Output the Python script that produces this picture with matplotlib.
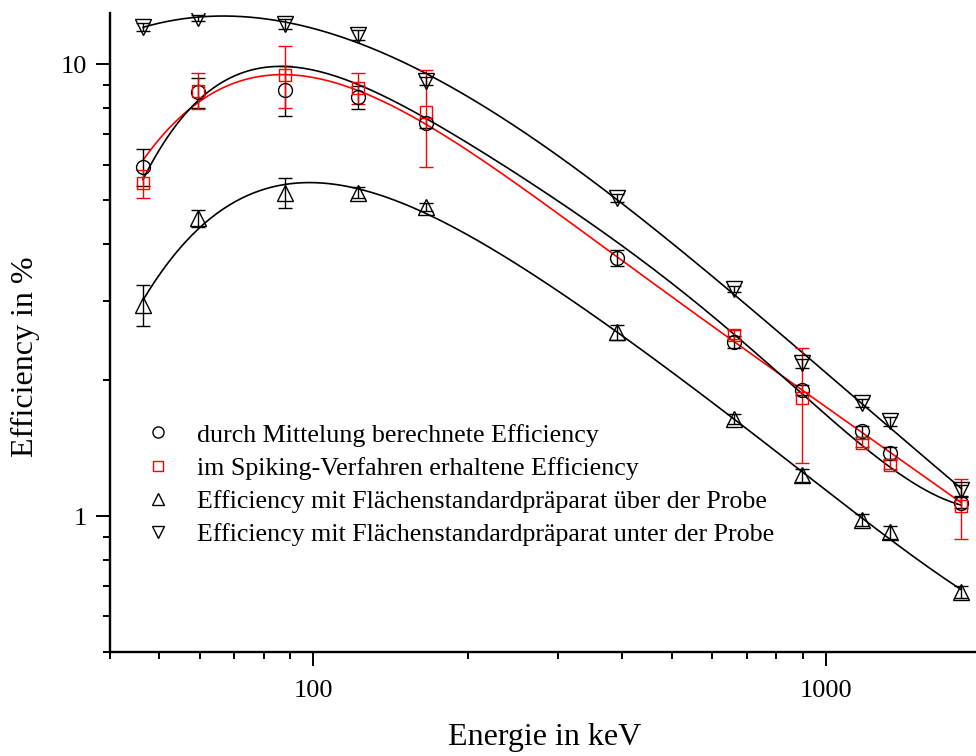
import numpy as np
import matplotlib
matplotlib.use("Agg")
import matplotlib.pyplot as plt
from matplotlib.ticker import FixedLocator, NullFormatter, FixedFormatter
from matplotlib.lines import Line2D

# ---------------- data ----------------
energy = [46.5, 59.5, 88.0, 122.1, 165.9, 391.7, 661.7, 898.0, 1173.2, 1332.5, 1836.1]

eff_mean = [5.94, 8.67, 8.80, 8.45, 7.43, 3.73, 2.43, 1.90, 1.54, 1.38, 1.07]
err_mean = [0.55, 0.65, 1.10, 0.50, 0.20, 0.15, 0.07, 0.05, 0.04, 0.04, 0.03]

energy_spike = [46.5, 59.5, 88.0, 122.1, 165.9, 661.7, 898.0, 1173.2, 1332.5, 1836.1]
eff_spike = [5.45, 8.75, 9.50, 8.89, 7.83, 2.52, 1.83, 1.45, 1.30, 1.05]
err_spike = [0.38, 0.80, 1.50, 0.70, 1.90, 0.06, 0.52, 0.03, 0.03, 0.16]

eff_above = [2.94, 4.56, 5.20, 5.20, 4.84, 2.55, 1.64, 1.23, 0.98, 0.92, 0.68]
err_above = [0.30, 0.20, 0.40, 0.15, 0.10, 0.10, 0.04, 0.04, 0.03, 0.03, 0.02]

eff_below = [12.1, 12.7, 12.3, 11.6, 9.2, 5.07, 3.18, 2.18, 1.78, 1.62, 1.14]
err_below = [0.25, 0.20, 0.30, 0.30, 0.20, 0.10, 0.05, 0.05, 0.04, 0.04, 0.03]

labels = [
    "durch Mittelung berechnete Efficiency",
    "im Spiking-Verfahren erhaltene Efficiency",
    "Efficiency mit Flächenstandardpräparat über der Probe",
    "Efficiency mit Flächenstandardpräparat unter der Probe",
]

x_major = [100, 1000]
x_major_labels = ["100", "1000"]
y_major = [1, 10]
y_major_labels = ["1", "10"]

plt.rcParams['font.family'] = ['Liberation Serif', 'DejaVu Serif']

fig = plt.figure(figsize=(9.76, 7.56), dpi=100)
ax = fig.add_axes([0.1122, 0.1376, 0.8878, 0.8452])
ax.set_xscale('log')
ax.set_yscale('log')


def fit_curve(x, y, err=None, deg=5):
    """Polynomial fit of ln(eff) versus ln(E)."""
    lx = np.log(np.asarray(x))
    ly = np.log(np.asarray(y))
    w = None
    if err is not None:
        w = np.asarray(y) / np.asarray(err)
    c = np.polyfit(lx, ly, deg, w=w)
    xs = np.logspace(np.log10(min(x)), np.log10(max(x)), 400)
    return xs, np.exp(np.polyval(c, np.log(xs)))


# fitted curves
xs, ys = fit_curve(energy, eff_mean, err_mean)
ax.plot(xs, ys, color='red', lw=1.2, zorder=2)
xs, ys = fit_curve(energy_spike, eff_spike)
ax.plot(xs, ys, color='black', lw=1.2, zorder=2)
xs, ys = fit_curve(energy, eff_above)
ax.plot(xs, ys, color='black', lw=1.2, zorder=2)
xs, ys = fit_curve(energy, eff_below)
ax.plot(xs, ys, color='black', lw=1.2, zorder=2)

ms = 10
common = dict(ls='none', capsize=5, elinewidth=1.0, capthick=1.0, mfc='none', mew=1.0, zorder=3)
ax.errorbar(energy, eff_mean, yerr=err_mean, marker='o', ms=ms, color='black', mec='black', **common)
ax.errorbar(energy_spike, eff_spike, yerr=err_spike, marker='s', ms=ms * 0.85, color='red', mec='red', **common)
ax.errorbar(energy, eff_above, yerr=err_above, marker='^', ms=ms * 1.15, color='black', mec='black', **common)
ax.errorbar(energy, eff_below, yerr=err_below, marker='v', ms=ms * 1.15, color='black', mec='black', **common)

ax.set_xlim(40, 1961)
ax.set_ylim(0.5, 13.0)

# ticks
ax.xaxis.set_major_locator(FixedLocator(x_major))
ax.xaxis.set_major_formatter(FixedFormatter(x_major_labels))
xminor = [v * d for d in (10, 100, 1000) for v in range(2, 10)]
xminor = [v for v in xminor if 40 <= v <= 1961 and v not in x_major]
ax.xaxis.set_minor_locator(FixedLocator(xminor))
ax.xaxis.set_minor_formatter(NullFormatter())

ax.yaxis.set_major_locator(FixedLocator(y_major))
ax.yaxis.set_major_formatter(FixedFormatter(y_major_labels))
yminor = [v * d for d in (0.1, 1) for v in range(2, 10)]
yminor = [v for v in yminor if 0.5 <= v <= 13 and v not in y_major]
ax.yaxis.set_minor_locator(FixedLocator(yminor))
ax.yaxis.set_minor_formatter(NullFormatter())

ax.tick_params(which='major', direction='out', length=10, width=1.4, labelsize=19, pad=6)
ax.tick_params(axis='x', which='major', pad=10)
ax.tick_params(which='minor', direction='out', length=5, width=1.4)

for s in ('top', 'right'):
    ax.spines[s].set_visible(False)
for s in ('left', 'bottom'):
    ax.spines[s].set_linewidth(1.7)

ax.set_xlabel("Energie in keV", fontsize=23, va='center')
ax.xaxis.set_label_coords(0.502, -0.1346)
ax.set_ylabel("Efficiency in %", fontsize=23, va='center')
ax.yaxis.set_label_coords(-0.0975, 0.462)

handles = [
    Line2D([], [], ls='none', marker='o', ms=8, mfc='none', mec='black', mew=1.0),
    Line2D([], [], ls='none', marker='s', ms=7, mfc='none', mec='red', mew=1.0),
    Line2D([], [], ls='none', marker='^', ms=8.5, mfc='none', mec='black', mew=1.0),
    Line2D([], [], ls='none', marker='v', ms=8.5, mfc='none', mec='black', mew=1.0),
]
ax.legend(handles, labels, loc='upper left', bbox_to_anchor=(0.149, 0.440),
          bbox_transform=fig.transFigure, frameon=False, fontsize=18.7,
          handlelength=1.0, handletextpad=1.0, labelspacing=0.38, borderpad=0, borderaxespad=0)

fig.savefig("out.png", dpi=100)
